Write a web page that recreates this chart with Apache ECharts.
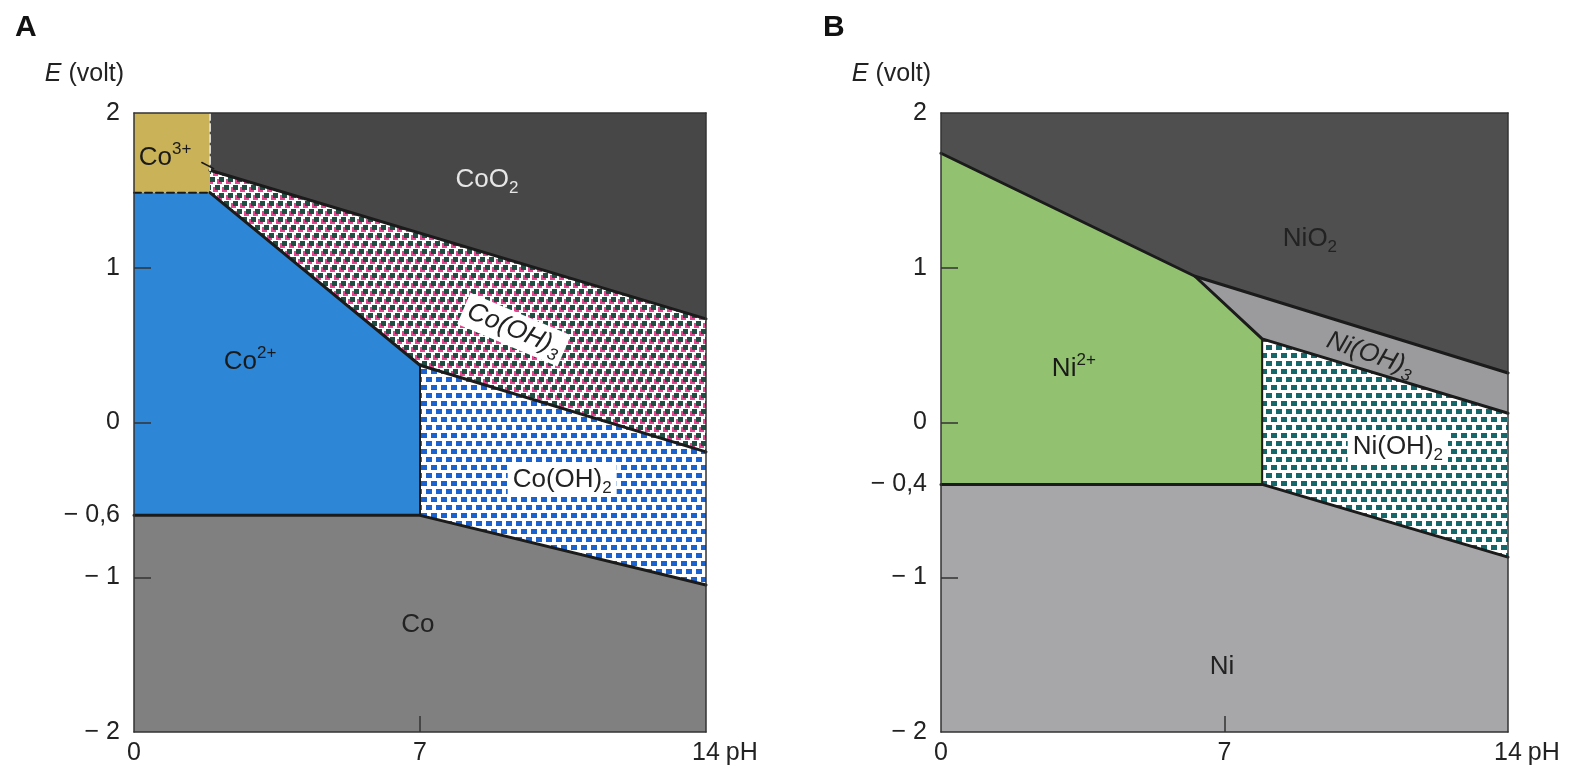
<!DOCTYPE html>
<html><head><meta charset="utf-8">
<script src="https://cdn.jsdelivr.net/npm/echarts@6/dist/echarts.min.js"></script>
<style>html,body{margin:0;padding:0;background:#fff}#c{width:1577px;height:778px}</style>
</head><body><div id="c"></div>
<script>
// ---------------- DATA (pH, E in volt) ----------------
const xLabelValues = [0, 7, 14];
const xTickValues = [7];
const yLabelValuesA = [2, 1, 0, -0.6, -1, -2];
const yLabelValuesB = [2, 1, 0, -0.4, -1, -2];
const yTickValues = [1, 0, -1];

// Panel A : cobalt regions
const regCo3 = [[0, 2], [1.86, 2], [1.86, 1.485], [0, 1.485]];
const regCoO2 = [[1.86, 2], [14, 2], [14, 0.67], [1.86, 1.63]];
const regCoOH3 = [[1.86, 1.63], [14, 0.67], [14, -0.19], [7, 0.37], [1.86, 1.485]];
const regCo2 = [[0, 1.485], [1.86, 1.485], [7, 0.37], [7, -0.6], [0, -0.6]];
const regCoOH2 = [[7, 0.37], [14, -0.19], [14, -1.05], [7, -0.6]];
const regCo = [[0, -0.6], [7, -0.6], [14, -1.05], [14, -2], [0, -2]];
// Panel A : boundary lines
const lineA1 = [[1.86, 1.63], [14, 0.67]];
const lineA2 = [[1.86, 1.485], [7, 0.37], [14, -0.19]];
const lineA3 = [[0, -0.6], [7, -0.6], [14, -1.05]];
const lineA4 = [[7, 0.37], [7, -0.6]];
const lineA5 = [[0, 1.485], [1.86, 1.485]];
const lineA6 = [[1.86, 2], [1.86, 1.63]];
const leaderA = [[1.66, 1.68], [1.95, 1.64]];

// Panel B : nickel regions
const regNiO2 = [[0, 2], [14, 2], [14, 0.32], [6.27, 0.945], [0, 1.74]];
const regNiOH3 = [[6.27, 0.945], [14, 0.32], [14, 0.06], [7.93, 0.54]];
const regNi2 = [[0, 1.74], [6.27, 0.945], [7.93, 0.54], [7.93, -0.4], [0, -0.4]];
const regNiOH2 = [[7.93, 0.54], [14, 0.06], [14, -0.87], [7.93, -0.4]];
const regNi = [[0, -0.4], [7.93, -0.4], [14, -0.87], [14, -2], [0, -2]];
// Panel B : boundary lines
const lineB1 = [[0, 1.74], [6.27, 0.945], [14, 0.32]];
const lineB2 = [[6.27, 0.945], [7.93, 0.54], [14, 0.06]];
const lineB3 = [[0, -0.4], [7.93, -0.4], [14, -0.87]];
const lineB4 = [[7.93, 0.54], [7.93, -0.4]];

// Region names
const namesA = ['CoO{s|2}', '{i|Co(OH)}{is|3}', 'Co{p|2+}', 'Co{p|3+}', 'Co(OH){s|2}', 'Co'];
const anchorsA = [[8.64, 1.57], [9.3, 0.6], [2.84, 0.39], [0.76, 1.71], [10.48, -0.37], [6.95, -1.31]];
const namesB = ['NiO{s|2}', '{i|Ni(OH)}{is|3}', 'Ni{p|2+}', 'Ni(OH){s|2}', 'Ni'];
const anchorsB = [[9.11, 1.19], [10.6, 0.44], [3.28, 0.35], [11.28, -0.16], [6.94, -1.58]];

// ---------------- STYLE ----------------
const FONT = "'Liberation Sans Narrow', 'Liberation Sans', Arial, sans-serif";
const labelStyleA = [
  { fill: '#e6e6e6', rot: 0 },
  { fill: '#222', rot: -23, bg: '#fff' },
  { fill: '#1a1a1a', rot: 0 },
  { fill: '#1a1a1a', rot: 0 },
  { fill: '#222', rot: 0, bg: '#fff' },
  { fill: '#222', rot: 0 }
];
const labelStyleB = [
  { fill: '#222', rot: 0 },
  { fill: '#222', rot: -19 },
  { fill: '#1a1a1a', rot: 0 },
  { fill: '#222', rot: 0, bg: '#fff' },
  { fill: '#222', rot: 0 }
];

function makePattern(w, h, marks) {
  const c = document.createElement('canvas');
  c.width = w; c.height = h;
  const g = c.getContext('2d');
  g.fillStyle = '#fff'; g.fillRect(0, 0, w, h);
  marks.forEach(m => { g.fillStyle = m[4]; g.fillRect(m[0], m[1], m[2], m[3]); });
  return { image: c, repeat: 'repeat' };
}
function squares(w, h, pts, size, col, shadow) {
  const out = [];
  pts.forEach(p => {
    if (shadow) out.push([p[0] - 2, p[1] + 2, size[0], size[1], shadow]);
    out.push([p[0], p[1], size[0], size[1], col]);
  });
  return makePattern(w, h, out);
}
const stagger = [[1, 1], [11, 1], [6, 9], [16, 9], [-4, 9]];
const patCoOH2 = squares(20, 16, stagger, [6, 5], '#1c62cf');
const patNiOH2 = squares(20, 16, stagger, [6, 5], '#17666a');
const patCoOH3 = squares(18, 16, [[3, 1], [12, 1], [8, 9], [17, 9], [-1, 9]], [5, 5], '#1f4d42', '#e2468e');

function region(pts, fill, ai) {
  return {
    type: 'custom', xAxisIndex: ai, yAxisIndex: ai, z: 1, silent: true,
    data: pts, encode: { x: 0, y: 1 },
    renderItem: (params, api) => {
      if (params.dataIndex !== 0) return null;
      return { type: 'polygon', shape: { points: pts.map(p => api.coord(p)) }, style: { fill: fill } };
    }
  };
}
function bound(pts, ai, width, color, type) {
  return {
    type: 'line', xAxisIndex: ai, yAxisIndex: ai, z: 3, silent: true, data: pts,
    showSymbol: false, symbol: 'none', animation: false,
    lineStyle: { width: width, color: color, type: type || 'solid', cap: 'round', join: 'round' }
  };
}
const rich = {
  s: { fontSize: 17, lineHeight: 16, verticalAlign: 'bottom', fontFamily: FONT },
  p: { fontSize: 17, lineHeight: 16, verticalAlign: 'top', fontFamily: FONT },
  i: { fontSize: 26, lineHeight: 34, fontStyle: 'italic', fontFamily: FONT },
  is: { fontSize: 17, lineHeight: 16, verticalAlign: 'bottom', fontStyle: 'italic', fontFamily: FONT }
};
function labels(names, anchors, styles, ai) {
  return {
    type: 'custom', xAxisIndex: ai, yAxisIndex: ai, z: 6, silent: true,
    data: anchors, encode: { x: 0, y: 1 },
    renderItem: (params, api) => {
      const i = params.dataIndex, st = styles[i];
      const pt = api.coord(anchors[i]);
      return {
        type: 'text', x: pt[0], y: pt[1], rotation: st.rot * Math.PI / 180,
        style: {
          text: names[i], rich: rich, fill: st.fill,
          font: '26px ' + FONT, lineHeight: 34,
          align: 'center', verticalAlign: 'middle',
          backgroundColor: st.bg || null, padding: st.bg ? [0, 5, 0, 5] : 0
        }
      };
    }
  };
}

function fmtY(v) {
  if (v < 0) return '\u2212 ' + String(-v).replace('.', ',');
  return String(v).replace('.', ',');
}
function mainX(gi) {
  return {
    type: 'value', gridIndex: gi, min: 0, max: 14, z: 10,
    name: 'pH', nameLocation: 'end', nameGap: 8,
    nameTextStyle: { fontSize: 25, fontFamily: FONT, color: '#222', verticalAlign: 'top', padding: [9, 0, 0, 0] },
    axisLine: { show: true, onZero: false, lineStyle: { color: '#333', width: 1.5 } },
    axisTick: { show: true, inside: true, length: 16, customValues: xTickValues, lineStyle: { color: '#333', width: 1.5 } },
    axisLabel: { customValues: xLabelValues, fontSize: 25, fontFamily: FONT, color: '#222', margin: 9 },
    splitLine: { show: false }
  };
}
function mainY(gi, vals) {
  return {
    type: 'value', gridIndex: gi, min: -2, max: 2, z: 10,
    name: '{e|E} (volt)', nameLocation: 'end', nameGap: 26,
    nameTextStyle: { fontSize: 25, fontFamily: FONT, color: '#222', align: 'right', padding: [0, 10, 0, 0],
      rich: { e: { fontSize: 25, fontStyle: 'italic', fontFamily: FONT, color: '#222' } } },
    axisLine: { show: true, onZero: false, lineStyle: { color: '#333', width: 1.5 } },
    axisTick: { show: true, inside: true, length: 17, customValues: yTickValues, lineStyle: { color: '#333', width: 1.5 } },
    axisLabel: { customValues: vals, fontSize: 25, fontFamily: FONT, color: '#222', margin: 14, formatter: fmtY },
    splitLine: { show: false }
  };
}
function frameX(gi) {
  return { type: 'value', gridIndex: gi, min: 0, max: 14, position: 'top', z: 10,
    axisLine: { show: true, onZero: false, lineStyle: { color: '#333', width: 1.5 } },
    axisTick: { show: false }, axisLabel: { show: false }, splitLine: { show: false } };
}
function frameY(gi) {
  return { type: 'value', gridIndex: gi, min: -2, max: 2, position: 'right', z: 10,
    axisLine: { show: true, onZero: false, lineStyle: { color: '#333', width: 1.5 } },
    axisTick: { show: false }, axisLabel: { show: false }, splitLine: { show: false } };
}

const LC = '#1b1b1b';
const option = {
  animation: false,
  backgroundColor: '#fff',
  title: [
    { text: 'A', left: 10, top: 8, textStyle: { fontSize: 30, fontWeight: 'bold', fontFamily: "'Liberation Sans', Arial, sans-serif", color: '#111' } },
    { text: 'B', left: 818, top: 8, textStyle: { fontSize: 30, fontWeight: 'bold', fontFamily: "'Liberation Sans', Arial, sans-serif", color: '#111' } }
  ],
  grid: [
    { left: 134, right: 871, top: 113, bottom: 46 },
    { left: 941, right: 69, top: 113, bottom: 46 }
  ],
  xAxis: [mainX(0), mainX(1), frameX(0), frameX(1)],
  yAxis: [mainY(0, yLabelValuesA), mainY(1, yLabelValuesB), frameY(0), frameY(1)],
  series: [
    region(regCo3, '#c9b257', 0),
    region(regCoO2, '#474747', 0),
    region(regCoOH3, patCoOH3, 0),
    region(regCo2, '#2d86d6', 0),
    region(regCoOH2, patCoOH2, 0),
    region(regCo, '#808080', 0),
    bound(lineA1, 0, 3, LC),
    bound(lineA2, 0, 3, LC),
    bound(lineA3, 0, 3, LC),
    bound(lineA4, 0, 2, LC),
    bound(lineA5, 0, 2, LC, [7, 4]),
    bound(lineA6, 0, 2, '#d8d8d8', [7, 4]),
    bound(leaderA, 0, 1.5, LC),
    labels(namesA, anchorsA, labelStyleA, 0),

    region(regNiO2, '#4f4f4f', 1),
    region(regNiOH3, '#9b9b9d', 1),
    region(regNi2, '#92c16f', 1),
    region(regNiOH2, patNiOH2, 1),
    region(regNi, '#a7a7aa', 1),
    bound(lineB1, 1, 3, LC),
    bound(lineB2, 1, 3, LC),
    bound(lineB3, 1, 3, LC),
    bound(lineB4, 1, 2, LC),
    labels(namesB, anchorsB, labelStyleB, 1)
  ]
};
echarts.init(document.getElementById('c')).setOption(option);
</script>
</body></html>
